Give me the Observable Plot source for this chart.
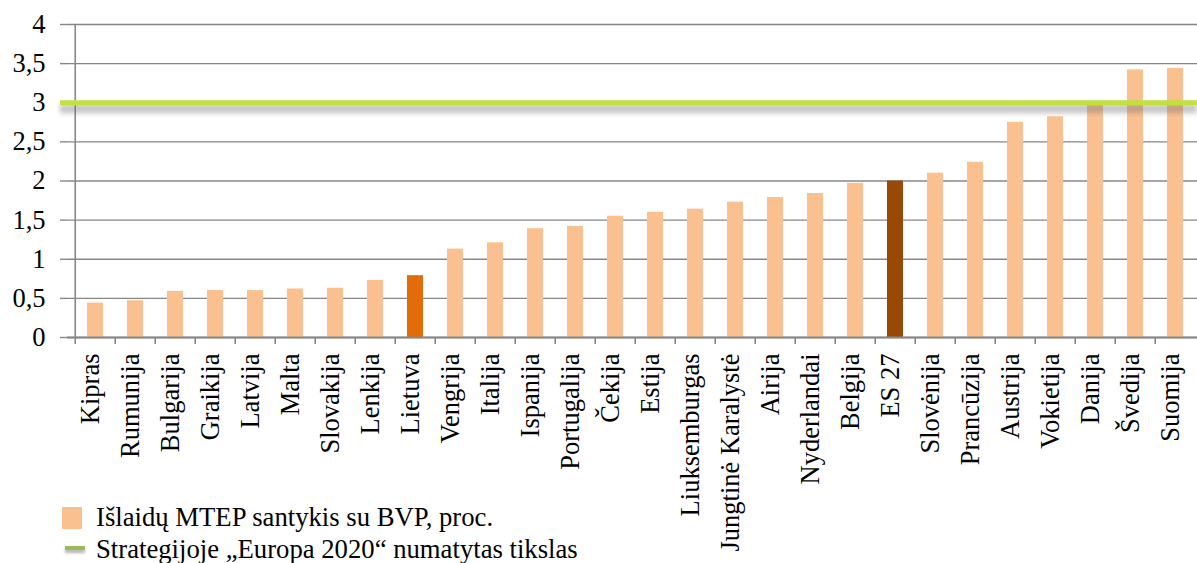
<!DOCTYPE html>
<html>
<head>
<meta charset="utf-8">
<script src="https://cdn.jsdelivr.net/npm/d3@7"></script>
<script src="https://cdn.jsdelivr.net/npm/@observablehq/plot@0.6"></script>
<style>
  html, body { margin: 0; padding: 0; background: #fff; }
  #wrap { position: relative; width: 1197px; height: 563px; overflow: hidden; font-family: 'Liberation Serif'; }
  #wrap svg, #wrap svg text { font-family: 'Liberation Serif' !important; }
  #legend { position: absolute; left: 0; top: 0; width: 100%; height: 100%; pointer-events: none; }
  .item { position: absolute; left: 0; font-size: 26.7px; color: #000; white-space: nowrap; font-family: 'Liberation Serif'; }
  .sw { position: absolute; }
</style>
</head>
<body>
<div id="wrap">
  <div id="chart"></div>
  <div id="legend"></div>
</div>
<script>
const categories = ["Kipras", "Rumunija", "Bulgarija", "Graikija", "Latvija", "Malta", "Slovakija", "Lenkija", "Lietuva", "Vengrija", "Italija", "Ispanija", "Portugalija", "Čekija", "Estija", "Liuksemburgas", "Jungtinė Karalystė", "Airija", "Nyderlandai", "Belgija", "ES 27", "Slovėnija", "Prancūzija", "Austrija", "Vokietija", "Danija", "Švedija", "Suomija"];
const values = [0.44, 0.47, 0.59, 0.60, 0.60, 0.62, 0.63, 0.73, 0.79, 1.13, 1.21, 1.39, 1.42, 1.55, 1.60, 1.64, 1.73, 1.79, 1.84, 1.97, 2.00, 2.10, 2.24, 2.75, 2.82, 2.99, 3.42, 3.44];
const targetValue = [3];
const yTicks = [0, 0.5, 1, 1.5, 2, 2.5, 3, 3.5, 4];
const seriesLabels = ["Išlaidų MTEP santykis su BVP, proc.", "Strategijoje „Europa 2020“ numatytas tikslas"];
const colors = { base: "#fac090", lietuva: "#e36c0a", es: "#984807", target: "#c2e03e", grid: "#878787" };

const data = categories.map((c, i) => ({ country: c, value: values[i] }));
const fillFor = d => d.country === "Lietuva" ? colors.lietuva : d.country === "ES 27" ? colors.es : colors.base;

const W = 1197, H = 563;
const x0 = 67.3, x1 = 1202.7;
const step = (x1 - x0) / categories.length;
const fs = 26.5;

const plot = Plot.plot({
  width: W,
  height: H,
  marginLeft: 67,
  marginRight: 0,
  marginTop: 24,
  marginBottom: 226,
  style: { fontFamily: "'Liberation Serif'", fontSize: fs + "px", background: "transparent", color: "#000" },
  x: { domain: categories, range: [x0, x1], paddingInner: 0.6, paddingOuter: 0.3, label: null },
  y: { domain: [0, 4], label: null },
  marks: [
    Plot.gridY(yTicks, { stroke: colors.grid, strokeOpacity: 1, strokeWidth: 1.4 }),
    Plot.axisY(yTicks, { tickSize: 7, tickPadding: 15, stroke: colors.grid, strokeWidth: 1.4, tickFormat: d => String(d).replace(".", ","), fontSize: fs, fill: "#000", label: null }),
    Plot.ruleX([categories[0]], { x: d => d, dx: -step / 2, y1: 0, y2: 4, stroke: colors.grid, strokeWidth: 1.6 }),
    Plot.barY(data, { x: "country", y: "value", fill: fillFor }),
    Plot.ruleY([0], { stroke: colors.grid, strokeWidth: 2 }),
    Plot.axisX({ tickSize: 7, dx: -step / 2, stroke: colors.grid, strokeWidth: 1.6, tickFormat: () => "", label: null }),
    Plot.axisX({ tickSize: 0, tickPadding: 16, tickRotate: -90, dx: -5, fontSize: fs, fill: "#000", label: null }),
    Plot.ruleY(targetValue, { stroke: "#6f6f6f", strokeWidth: 9, strokeOpacity: 0.4, dy: 6, insetLeft: -7, ariaDescription: "target-shadow" }),
    Plot.ruleY(targetValue, { stroke: colors.target, strokeWidth: 5, insetLeft: -7 })
  ]
});

plot.querySelectorAll('g[aria-description="target-shadow"]').forEach(g => g.setAttribute("style", "filter: blur(2.5px)"));
document.getElementById("chart").appendChild(plot);

const legend = document.getElementById("legend");
const items = [
  { label: seriesLabels[0], top: 502, sw: { left: 62, top: 507, width: 20, height: 22, background: colors.base } },
  { label: seriesLabels[1], top: 534, sw: { left: 65, top: 546, width: 20, height: 4, background: "#9bbb59" } }
];
items.forEach((it, i) => {
  const sw = document.createElement("div");
  sw.className = "sw";
  Object.assign(sw.style, { left: it.sw.left + "px", top: it.sw.top + "px", width: it.sw.width + "px", height: it.sw.height + "px", background: it.sw.background });
  if (i === 1) sw.style.boxShadow = "0 3px 3px rgba(0,0,0,0.3)";
  legend.appendChild(sw);
  const t = document.createElement("div");
  t.className = "item";
  t.style.left = "96px";
  t.style.top = it.top + "px";
  t.textContent = it.label;
  legend.appendChild(t);
});
</script>
</body>
</html>
